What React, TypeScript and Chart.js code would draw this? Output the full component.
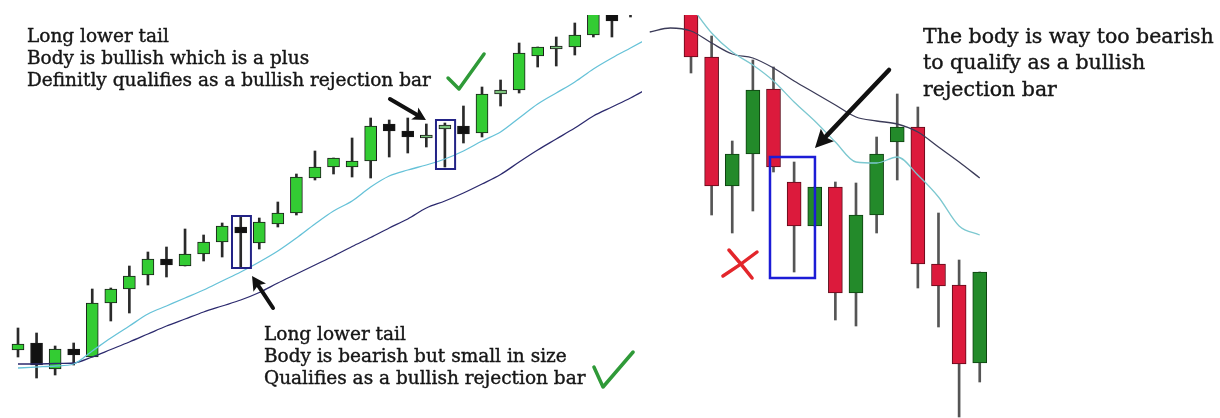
import React, { useEffect, useRef } from "react";
import { Chart, registerables } from "chart.js";
Chart.register(...registerables);

// ---------- Left panel: up-trend (price units) ----------
const leftOpen = [68, 75, 49, 69, 61, 115, 129, 143, 159, 152, 164, 176, 191, 175, 194, 205, 240, 251, 251, 257, 294, 287, 280, 289, 292, 285, 324, 328, 362, 369, 371, 383, 410, 420];
const leftHigh = [90, 85, 72, 75, 129, 130, 152, 166, 171, 189, 183, 195, 201, 200, 216, 244, 267, 260, 280, 300, 298, 300, 294, 295, 312, 331, 338, 375, 371, 381, 395, 415, 412, 425];
const leftLow = [61, 40, 43, 53, 61, 97, 105, 133, 141, 152, 157, 161, 151, 169, 191, 203, 238, 244, 241, 240, 261, 265, 271, 251, 275, 281, 312, 325, 351, 352, 363, 381, 381, 401];
const leftClose = [74, 53, 69, 63, 115, 129, 142, 159, 153, 164, 176, 192, 185, 196, 205, 241, 251, 260, 257, 292, 287, 281, 283, 293, 284, 324, 328, 365, 371, 372, 383, 410, 397, 410];
// moving averages, one value per bar index 1..35
const leftFastMA = [50, 51, 52, 54, 67, 80, 92, 104, 112, 120, 128, 137, 146, 156, 167, 180, 194, 207, 217, 231, 242, 248, 253, 259, 267, 277, 286, 300, 314, 325, 336, 349, 360, 370, 380];
const leftSlowMA = [54, 54, 54.5, 55, 61, 68.5, 76, 84, 92, 99, 106, 112, 118, 125.5, 135, 144, 153, 162, 171.5, 180.5, 190, 199, 210, 217, 225, 234, 243.5, 256, 268, 279, 290, 302, 311, 320, 330];

// ---------- Right panel: down-trend (price units) ----------
const rightOpen = [420, 361, 232, 264, 329, 236, 192, 231, 125, 203, 276, 291, 154, 133, 55];
const rightHigh = [430, 382, 277, 358, 351, 256, 231, 236, 235, 281, 324, 311, 205, 158, 146];
const rightLow = [345, 203, 185, 207, 246, 146, 192, 98, 92, 185, 238, 130, 91, 1, 36];
const rightClose = [361, 232, 264, 328, 251, 192, 231, 125, 203, 264, 291, 154, 132, 54, 146];
// slow MA at bar index -1..15, fast MA at bar index 1..15
const rightSlowMA = [386, 390, 387, 375, 364, 360, 350, 337, 325, 313, 301, 297, 294, 286, 271, 256, 240];
const rightFastMA = [412, 385, 366, 353, 337, 316, 297, 276, 256, 255, 261, 243, 221, 192, 183];

// ---------- Annotation texts ----------
const topLeftText = ["Long lower tail", "Body is bullish which is a plus", "Definitly qualifies as a bullish rejection bar"];
const bottomText = ["Long lower tail", "Body is bearish but small in size", "Qualifies as a bullish rejection bar"];
const rightText = ["The body is way too bearish", "to qualify as a bullish", "rejection bar"];

type Pt = [number, number];
type Notes = {
  boxes: { x1: number; x2: number; y1: number; y2: number; color: string; width: number }[];
  arrows: { from: Pt; to: Pt; head: number; half: number; width: number }[];
  checks: Pt[][];
  crosses: Pt[][];
};

const leftNotes: Notes = {
  boxes: [
    { x1: 12.53, x2: 13.55, y1: 150, y2: 202, color: "#232386", width: 2 },
    { x1: 23.52, x2: 24.55, y1: 249, y2: 298, color: "#232386", width: 2 },
  ],
  arrows: [
    { from: [21.04, 319], to: [22.98, 298], head: 13, half: 7, width: 4 },
    { from: [14.74, 110], to: [13.61, 142], head: 14, half: 7.5, width: 4 },
  ],
  checks: [
    [[24.17, 340], [24.76, 329], [26.11, 364]],
    [[32.03, 51], [32.52, 31], [34.14, 66]],
  ],
  crosses: [],
};

const rightNotes: Notes = {
  boxes: [{ x1: 4.83, x2: 7.01, y1: 140, y2: 261, color: "#1c1cd6", width: 2.5 }],
  arrows: [{ from: [10.6, 348], to: [7.01, 270], head: 18, half: 9, width: 4.5 }],
  checks: [],
  crosses: [
    [[2.55, 142], [3.4, 153], [4.2, 166]],
    [[2.84, 168], [3.4, 155], [3.96, 140]],
  ],
};

function notesPlugin(notes: Notes) {
  return {
    id: "notes",
    afterDatasetsDraw(chart: any) {
      const ctx: CanvasRenderingContext2D = chart.ctx;
      const xs = chart.scales.x;
      const ys = chart.scales.y;
      const px = (p: Pt): Pt => [xs.getPixelForValue(p[0]), ys.getPixelForValue(p[1])];
      ctx.save();
      for (const b of notes.boxes) {
        const a = px([b.x1, b.y2]);
        const c = px([b.x2, b.y1]);
        ctx.strokeStyle = b.color;
        ctx.lineWidth = b.width;
        ctx.strokeRect(a[0], a[1], c[0] - a[0], c[1] - a[1]);
      }
      for (const ar of notes.arrows) {
        const t = px(ar.from);
        const h = px(ar.to);
        const dx = h[0] - t[0];
        const dy = h[1] - t[1];
        const len = Math.hypot(dx, dy);
        const ux = dx / len;
        const uy = dy / len;
        const bx = h[0] - ux * ar.head;
        const by = h[1] - uy * ar.head;
        ctx.strokeStyle = "#111";
        ctx.fillStyle = "#111";
        ctx.lineWidth = ar.width;
        ctx.lineCap = "round";
        ctx.beginPath();
        ctx.moveTo(t[0], t[1]);
        ctx.lineTo(bx + ux * 2, by + uy * 2);
        ctx.stroke();
        ctx.beginPath();
        ctx.moveTo(h[0], h[1]);
        ctx.lineTo(bx - uy * ar.half, by + ux * ar.half);
        ctx.lineTo(bx + ux * 3, by + uy * 3);
        ctx.lineTo(bx + uy * ar.half, by - ux * ar.half);
        ctx.closePath();
        ctx.fill();
      }
      ctx.lineCap = "round";
      ctx.lineJoin = "round";
      for (const ck of notes.checks) {
        ctx.strokeStyle = "#2f9a38";
        ctx.lineWidth = 3.5;
        ctx.beginPath();
        ck.forEach((p, i) => {
          const q = px(p);
          if (i === 0) ctx.moveTo(q[0], q[1]);
          else ctx.lineTo(q[0], q[1]);
        });
        ctx.stroke();
      }
      for (const cr of notes.crosses) {
        ctx.strokeStyle = "#e3262b";
        ctx.lineWidth = 3.5;
        ctx.beginPath();
        const a = px(cr[0]);
        const m = px(cr[1]);
        const e = px(cr[2]);
        ctx.moveTo(a[0], a[1]);
        ctx.quadraticCurveTo(m[0], m[1], e[0], e[1]);
        ctx.stroke();
      }
      ctx.restore();
    },
  };
}

type Panel = {
  open: number[];
  high: number[];
  low: number[];
  close: number[];
  fast: { x: number; y: number }[];
  slow: { x: number; y: number }[];
  xMin: number;
  xMax: number;
  bodyWidth: number;
  bodyColors: string[];
  bodyBorders: string[];
  wickColor: string;
  fastColor: string;
  slowColor: string;
  notes: Notes;
};

function buildConfig(p: Panel): any {
  const bodies = p.open.map((o, i) => ({ x: i + 1, y: [o, p.close[i]] }));
  const wicks = p.low.map((l, i) => ({ x: i + 1, y: [l, p.high[i]] }));
  return {
    type: "bar",
    data: {
      datasets: [
        {
          type: "line",
          data: p.fast,
          borderColor: p.fastColor,
          borderWidth: 1.3,
          pointRadius: 0,
          cubicInterpolationMode: "monotone",
          order: 0,
          clip: 0,
        },
        {
          type: "line",
          data: p.slow,
          borderColor: p.slowColor,
          borderWidth: 1.3,
          pointRadius: 0,
          cubicInterpolationMode: "monotone",
          order: 0,
          clip: 0,
        },
        {
          type: "bar",
          data: bodies,
          backgroundColor: p.bodyColors,
          borderColor: p.bodyBorders,
          borderWidth: 1,
          borderSkipped: false,
          barThickness: p.bodyWidth,
          minBarLength: 3,
          grouped: false,
          order: 1,
          clip: 0,
        },
        {
          type: "bar",
          data: wicks,
          backgroundColor: p.wickColor,
          borderWidth: 0,
          barThickness: 2,
          grouped: false,
          order: 2,
          clip: 0,
        },
      ],
    },
    options: {
      responsive: false,
      maintainAspectRatio: false,
      animation: false,
      events: [],
      layout: { padding: { top: 15, left: 0, right: 0, bottom: 0 } },
      plugins: { legend: { display: false }, tooltip: { enabled: false } },
      scales: {
        x: { type: "linear", min: p.xMin, max: p.xMax, offset: false, display: false },
        y: { type: "linear", min: 0, max: 403, display: false },
      },
    },
    plugins: [notesPlugin(p.notes)],
  };
}

const leftPanel: Panel = {
  open: leftOpen,
  high: leftHigh,
  low: leftLow,
  close: leftClose,
  fast: leftFastMA.map((v, i) => ({ x: i + 1, y: v })),
  slow: leftSlowMA.map((v, i) => ({ x: i + 1, y: v })),
  xMin: 0.0302,
  xMax: 34.62,
  bodyWidth: 12,
  bodyColors: leftOpen.map((o, i) =>
    leftClose[i] >= o ? (leftClose[i] - o < 5 ? "#7cc47c" : "#33cc33") : "#111111"
  ),
  bodyBorders: leftOpen.map(() => "#1a1a1a"),
  wickColor: "#2a2a2a",
  fastColor: "#66c2d8",
  slowColor: "#2c2a6e",
  notes: leftNotes,
};

const rightPanel: Panel = {
  open: rightOpen,
  high: rightHigh,
  low: rightLow,
  close: rightClose,
  fast: rightFastMA.map((v, i) => ({ x: i + 1, y: v })),
  slow: rightSlowMA.map((v, i) => ({ x: i - 1, y: v })),
  xMin: -1.376,
  xMax: 26.65,
  bodyWidth: 14,
  bodyColors: rightOpen.map((o, i) => (rightClose[i] >= o ? "#238a2a" : "#dc1a3c")),
  bodyBorders: rightOpen.map((o, i) => (rightClose[i] >= o ? "#0e3e10" : "#5c0a18")),
  wickColor: "#555555",
  fastColor: "#7cc8d0",
  slowColor: "#3b3b58",
  notes: rightNotes,
};

function ChartCanvas({ panel, left, width }: { panel: Panel; left: number; width: number }) {
  const ref = useRef<HTMLCanvasElement>(null);
  useEffect(() => {
    const chart = new Chart(ref.current as HTMLCanvasElement, buildConfig(panel));
    return () => chart.destroy();
  }, []);
  return (
    <canvas
      ref={ref}
      width={width}
      height={418}
      style={{ position: "absolute", left, top: 0, width, height: 418 }}
    />
  );
}

function TextBlock({ lines, left, top, size, lineHeight }: { lines: string[]; left: number; top: number; size: number; lineHeight: number }) {
  return (
    <div
      style={{
        position: "absolute",
        left,
        top,
        fontFamily: "'DejaVu Serif', serif",
        fontSize: size,
        lineHeight: `${lineHeight}px`,
        color: "#161616",
        WebkitTextStroke: "0.4px #161616",
        whiteSpace: "pre",
      }}
    >
      {lines.map((l, i) => (
        <div key={i}>{l}</div>
      ))}
    </div>
  );
}

export default function App() {
  return (
    <div
      style={{
        position: "fixed",
        left: 0,
        top: 0,
        width: 1220,
        height: 418,
        background: "#ffffff",
        overflow: "hidden",
      }}
    >
      <ChartCanvas panel={leftPanel} left={0} width={642} />
      <ChartCanvas panel={rightPanel} left={642} width={578} />
      <TextBlock lines={topLeftText} left={27} top={24.6} size={18.5} lineHeight={22} />
      <TextBlock lines={bottomText} left={264} top={322.6} size={18.5} lineHeight={22} />
      <TextBlock lines={rightText} left={923} top={22.7} size={20.5} lineHeight={26.5} />
    </div>
  );
}
